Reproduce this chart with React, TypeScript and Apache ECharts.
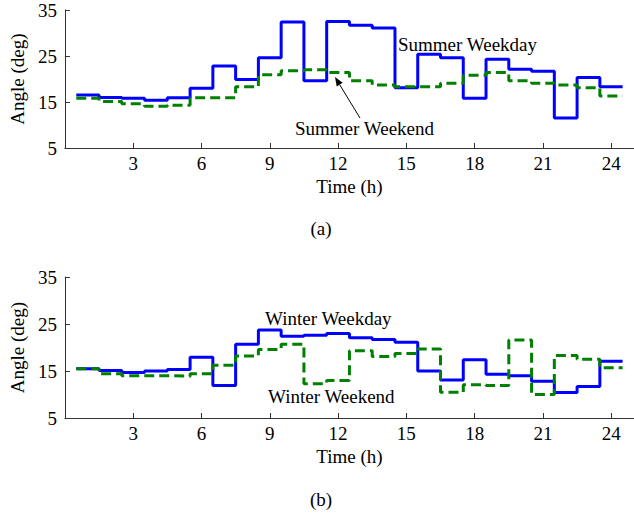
import React, { useEffect, useRef } from "react";
import * as echarts from "echarts";

const hours = [1, 2, 3, 4, 5, 6, 7, 8, 9, 10, 11, 12, 13, 14, 15, 16, 17, 18, 19, 20, 21, 22, 23, 24];
const summerWeekday = [16.5, 16.0, 15.8, 15.4, 15.9, 18.0, 22.8, 19.9, 24.6, 32.4, 19.6, 32.5, 31.7, 31.1, 18.1, 25.4, 24.6, 15.8, 24.3, 22.1, 21.7, 11.5, 20.3, 18.3];
const summerWeekend = [15.8, 15.1, 14.6, 14.1, 14.3, 15.9, 15.9, 18.3, 20.9, 21.8, 22.0, 21.4, 19.6, 18.7, 18.3, 18.3, 19.1, 20.8, 21.4, 19.6, 19.1, 18.7, 18.1, 16.3];
const winterWeekday = [15.5, 15.1, 14.7, 15.0, 15.3, 17.9, 11.9, 20.7, 23.7, 22.4, 22.6, 23.0, 22.1, 21.7, 21.1, 15.0, 13.1, 17.4, 14.3, 14.0, 12.8, 10.4, 11.7, 17.1];
const winterWeekend = [15.5, 14.4, 14.0, 14.0, 13.9, 14.4, 16.2, 18.2, 19.6, 20.7, 12.3, 13.0, 19.3, 18.1, 18.7, 19.7, 10.5, 12.1, 11.9, 21.6, 10.0, 18.3, 17.5, 15.7];
const xTicks = [3, 6, 9, 12, 15, 18, 21, 24];
const yTicks = [5, 15, 25, 35];

const FONT = "Liberation Serif";
const FS = 19;
const AX = "#333333";

// stairs: each hourly value spans [h-0.5, h+0.5]
function stairs(vals: number[]) {
  const pts: number[][] = hours.map((h, i) => [h - 0.5, vals[i]]);
  pts.push([hours[hours.length - 1] + 0.5, vals[vals.length - 1]]);
  return pts;
}

function xAxis(gridIndex: number) {
  return {
    type: "value",
    gridIndex,
    min: 0,
    max: 25,
    name: "Time (h)",
    nameLocation: "middle",
    nameGap: 29,
    nameTextStyle: { fontFamily: FONT, fontSize: FS, color: "#000" },
    axisLine: { show: true, onZero: false, lineStyle: { color: AX, width: 1 } },
    axisTick: { show: true, inside: true, length: 5, customValues: xTicks, lineStyle: { color: AX } },
    axisLabel: { customValues: xTicks, fontFamily: FONT, fontSize: FS, color: "#000", margin: 6 },
    splitLine: { show: false },
  };
}

function yAxis(gridIndex: number) {
  return {
    type: "value",
    gridIndex,
    min: 5,
    max: 35,
    name: "Angle (deg)",
    nameLocation: "middle",
    nameGap: 30,
    nameRotate: 90,
    nameTextStyle: { fontFamily: FONT, fontSize: FS, color: "#000" },
    axisLine: { show: true, onZero: false, lineStyle: { color: AX, width: 1 } },
    axisTick: { show: true, inside: true, length: 5, customValues: yTicks, lineStyle: { color: AX } },
    axisLabel: { customValues: yTicks, fontFamily: FONT, fontSize: FS, color: "#000", margin: 8 },
    splitLine: { show: false },
  };
}

function line(name: string, vals: number[], idx: number, color: string, dashed: boolean) {
  return {
    name,
    type: "line",
    xAxisIndex: idx,
    yAxisIndex: idx,
    step: "end",
    data: stairs(vals),
    symbol: "none",
    lineStyle: { color, width: 3, type: dashed ? [10, 5] : "solid" },
    z: dashed ? 3 : 2,
  };
}

function label(text: string, x: number, y: number, align = "left") {
  return {
    type: "text",
    x,
    y,
    style: { text, fontFamily: FONT, fontSize: FS, fill: "#000", align, verticalAlign: "middle" },
  };
}

function arrow(x1: number, y1: number, x2: number, y2: number) {
  const dx = x2 - x1;
  const dy = y2 - y1;
  const len = Math.sqrt(dx * dx + dy * dy);
  const ux = dx / len;
  const uy = dy / len;
  const hl = 9;
  const hw = 3.5;
  const bx = x2 - ux * hl;
  const by = y2 - uy * hl;
  return [
    { type: "line", shape: { x1, y1, x2: bx, y2: by }, style: { stroke: "#000", lineWidth: 1 } },
    {
      type: "polygon",
      shape: { points: [[x2, y2], [bx - uy * hw, by + ux * hw], [bx + uy * hw, by - ux * hw]] },
      style: { fill: "#000" },
    },
  ];
}

export default function App() {
  const ref = useRef<HTMLDivElement>(null);
  useEffect(() => {
    if (!ref.current) return;
    const chart = echarts.init(ref.current, undefined, { renderer: "svg" });
    chart.setOption({
      animation: false,
      backgroundColor: "#ffffff",
      grid: [
        { left: 52, top: 10, right: 0, height: 138 },
        { left: 52, top: 277, right: 0, height: 141 },
      ],
      xAxis: [xAxis(0), xAxis(1)],
      yAxis: [yAxis(0), yAxis(1)],
      series: [
        line("Summer Weekday", summerWeekday, 0, "#0000ff", false),
        line("Summer Weekend", summerWeekend, 0, "#008000", true),
        line("Winter Weekday", winterWeekday, 1, "#0000ff", false),
        line("Winter Weekend", winterWeekend, 1, "#008000", true),
      ],
      graphic: [
        label("Summer Weekday", 398, 44),
        label("Summer Weekend", 295, 128),
        ...arrow(360, 118, 335, 77),
        label("Winter Weekday", 265, 318),
        label("Winter Weekend", 268, 396),
        label("(a)", 321, 228, "center"),
        label("(b)", 321, 499, "center"),
      ],
    });
    return () => chart.dispose();
  }, []);
  return (
    <div
      ref={ref}
      style={{ position: "absolute", left: 0, top: 0, width: 634, height: 522, background: "#fff" }}
    />
  );
}
